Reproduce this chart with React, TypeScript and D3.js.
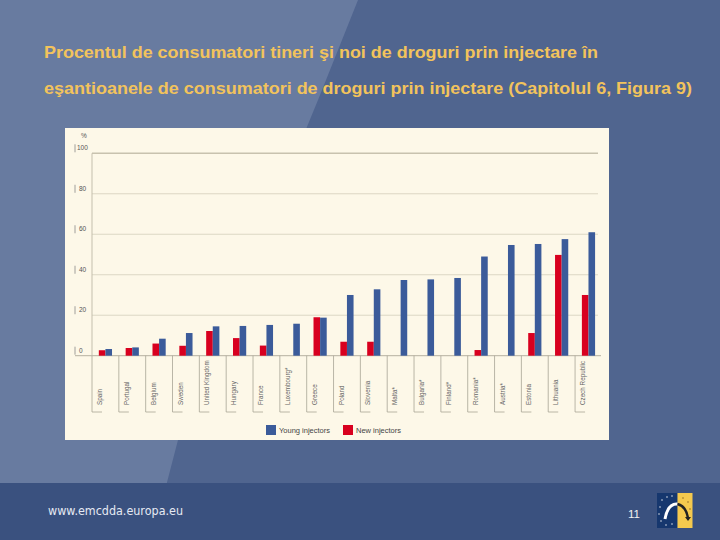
import React from "react";
import * as d3 from "d3";

const categories = [
  "Spain", "Portugal", "Belgium", "Sweden", "United Kingdom", "Hungary", "France",
  "Luxembourg*", "Greece", "Poland", "Slovenia", "Malta*", "Bulgaria*", "Finland*",
  "Romania*", "Austria*", "Estonia", "Lithuania", "Czech Republic",
];
const youngInjectors = [3.3, 4.1, 8.4, 11.2, 14.5, 14.7, 15.2, 15.8, 18.8, 30, 32.8, 37.4, 37.7, 38.4, 49, 54.7, 55.2, 57.6, 61];
const newInjectors: (number | null)[] = [2.7, 3.8, 6, 4.9, 12.2, 8.7, 5, null, 19, 6.9, 6.9, null, null, null, 2.8, null, 11.2, 49.8, 30];
const yTicks = [0, 20, 40, 60, 80, 100];
const titleLines = [
  "Procentul de consumatori tineri şi noi de droguri prin injectare în",
  "eşantioanele de consumatori de droguri prin injectare (Capitolul 6, Figura 9)",
];
const legendItems = ["Young injectors", "New injectors"];

const BLUE = "#3b5b9a";
const RED = "#d8001f";

export default function App() {
  const x = d3.scaleBand<string>().domain(categories).range([92, 601.9]).padding(0);
  const y = d3.scaleLinear().domain([0, 100]).range([355.7, 153.3]);
  const bw = 6.6;

  return (
    <svg width={720} height={540} style={{ position: "absolute", left: 0, top: 0 }}
      fontFamily="'Liberation Sans', Arial, sans-serif">
      {/* background */}
      <rect x={0} y={0} width={720} height={540} fill="#50658f" />
      <path d="M0,0 L358,0 L318,100 L178,440 L165,490 L0,490 Z" fill="#687ba0" />
      <rect x={0} y={483} width={720} height={57} fill="#3a517f" />

      {/* title */}
      {titleLines.map((t, i) => (
        <text key={i} x={44} y={58 + i * 36} fill="#f2c35c" fontSize={16.5} fontWeight="bold"
          textLength={i === 0 ? 554 : 648} lengthAdjust="spacingAndGlyphs">{t}</text>
      ))}

      {/* chart panel */}
      <rect x={65} y={128} width={544} height={312} fill="#fdf8e8" />

      {/* gridlines */}
      {yTicks.filter(v => v > 0).map(v => (
        <line key={v} x1={92} x2={598} y1={y(v)} y2={y(v)}
          stroke={v === 100 ? "#c8c2ae" : "#dcd7c4"} strokeWidth={v === 100 ? 1.6 : 1} />
      ))}
      <line x1={75} x2={601} y1={y(0)} y2={y(0)} stroke="#b5b0a0" strokeWidth={1} />
      <line x1={92} x2={92} y1={y(100)} y2={y(0)} stroke="#c4bfad" strokeWidth={1} />

      {/* y ticks */}
      <text x={81} y={138} fontSize={6.5} fill="#555">%</text>
      {yTicks.map(v => (
        <g key={v}>
          <line x1={75} x2={75} y1={y(v) - 9} y2={y(v) - 1} stroke="#888" strokeWidth={0.8} />
          <text x={v === 100 ? 77 : 79} y={y(v) - 3} fontSize={6.5} fill="#555">{v}</text>
        </g>
      ))}

      {/* category separators and labels */}
      {categories.map(c => {
        const x0 = x(c)!;
        return (
          <g key={c}>
            <line x1={x0} x2={x0} y1={y(0)} y2={412} stroke="#a8a496" strokeWidth={0.8} />
            <line x1={x0} x2={x0 + 10} y1={412} y2={412} stroke="#a8a496" strokeWidth={0.8} />
            <text transform={`translate(${x0 + 10},405) rotate(-90)`} fontSize={6.3} fill="#666">{c}</text>
          </g>
        );
      })}

      {/* bars */}
      {categories.map((c, i) => {
        const cx = x(c)! + x.bandwidth() / 2;
        const nv = newInjectors[i];
        return (
          <g key={c}>
            {nv !== null && (
              <rect x={cx - bw} y={y(nv)} width={bw} height={y(0) - y(nv)} fill={RED} />
            )}
            <rect x={cx} y={y(youngInjectors[i])} width={bw} height={y(0) - y(youngInjectors[i])} fill={BLUE} />
          </g>
        );
      })}

      {/* legend */}
      <rect x={266} y={425} width={10} height={10} fill={BLUE} />
      <text x={279} y={433} fontSize={7.5} fill="#444">{legendItems[0]}</text>
      <rect x={343} y={425} width={10} height={10} fill={RED} />
      <text x={356} y={433} fontSize={7.5} fill="#444">{legendItems[1]}</text>

      {/* footer */}
      <text x={48} y={515} fontSize={12.5} fill="#e6eaf3" fontFamily="'DejaVu Sans', sans-serif"
        textLength={135} lengthAdjust="spacingAndGlyphs">www.emcdda.europa.eu</text>
      <text x={628} y={518} fontSize={11.5} fill="#f2f2f2">11</text>

      {/* logo */}
      <rect x={657} y={493} width={20.5} height={35} fill="#16376e" />
      <rect x={677.5} y={493} width={15} height={35} fill="#f4c94e" />
      <path d="M665,519 Q668,503 677.5,504" stroke="#fff" strokeWidth={3} fill="none" />
      <path d="M677.5,504 Q686,506 688,518" stroke="#222" strokeWidth={2.5} fill="none" />
      <path d="M685,517 L691,517 L688,521 Z" fill="#222" />
      {[[662, 500], [667, 497], [672, 496], [660, 507], [659, 514], [661, 521], [666, 525], [672, 524], [683, 498], [688, 502], [690, 509]].map(([a, b], i) => (
        <circle key={i} cx={a} cy={b} r={0.7} fill={a < 677 ? "#fff" : "#7a5a20"} />
      ))}
    </svg>
  );
}
